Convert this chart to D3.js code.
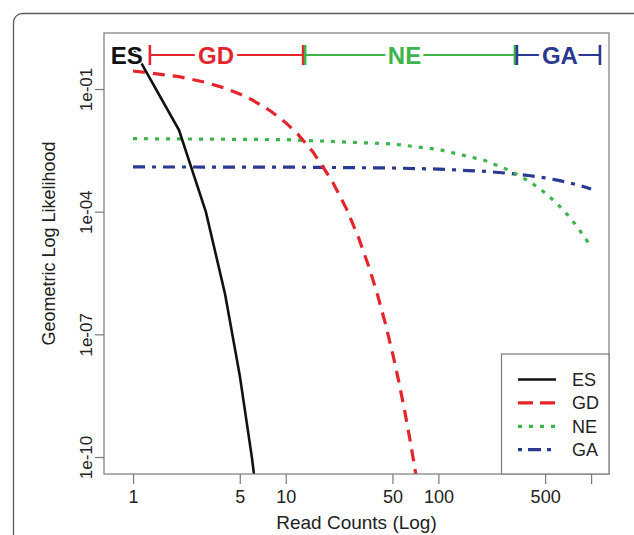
<!DOCTYPE html>
<html>
<head>
<meta charset="utf-8">
<script src="https://cdn.jsdelivr.net/npm/d3@7"></script>
<style>
  html, body { margin: 0; padding: 0; background: #fff; }
  svg { display: block; font-family: "Liberation Sans", Arial, Helvetica, sans-serif; }
</style>
</head>
<body>
<svg id="chart" width="634" height="535"></svg>
<script>
// ---- data ----
const esX = [1, 2, 3, 4, 5, 6, 7];
const esY = [0.99, 0.0099, 9.9e-5, 9.9e-7, 9.9e-9, 9.9e-11, 9.9e-13];

const gdX = [1, 2, 3, 4, 5, 6, 8, 10, 12, 15, 20, 25, 30, 35, 40, 45, 50, 55, 60, 65, 70, 75];
const gdY = [0.276, 0.200, 0.145, 0.105, 0.0756, 0.0547, 0.0286, 0.0150, 7.84e-3, 2.97e-3,
             5.89e-4, 1.17e-4, 2.31e-5, 4.58e-6, 9.08e-7, 1.80e-7, 3.56e-8, 7.06e-9,
             1.40e-9, 2.77e-10, 5.50e-11, 1.09e-11];

const neX = [1, 10, 50, 100, 200, 300, 400, 500, 600, 700, 800, 900, 1000];
const neY = [6.11e-3, 5.78e-3, 4.53e-3, 3.33e-3, 1.81e-3, 9.79e-4, 5.31e-4, 2.88e-4,
             1.56e-4, 8.45e-5, 4.58e-5, 2.48e-5, 1.35e-5];

const gaX = [1, 10, 50, 100, 200, 300, 400, 500, 600, 700, 800, 900, 1000];
const gaY = [1.24e-3, 1.23e-3, 1.17e-3, 1.10e-3, 9.70e-4, 8.57e-4, 7.57e-4, 6.68e-4,
             5.90e-4, 5.21e-4, 4.60e-4, 4.06e-4, 3.59e-4];

const seriesNames = ["ES", "GD", "NE", "GA"];
const xTicks = [1, 5, 10, 50, 100, 500, 1000];
const xTickLabels = ["1", "5", "10", "50", "100", "500", ""];
const yTicks = [1e-1, 1e-4, 1e-7, 1e-10];
const yTickLabels = ["1e-01", "1e-04", "1e-07", "1e-10"];

// region annotation along the top (boundaries in read counts)
const regionBounds = [1.27, 13.2, 322, 1160];
const regionNames = ["GD", "NE", "GA"];
const regionLabelAt = [3.5, 60, 625];
const esLabelAt = 0.91;

// ---- styling ----
const colors = { ES: "#111111", GD: "#e4262c", NE: "#3db54a", GA: "#2b3990" };
const dashes = { ES: null, GD: "12,8", NE: "4,7", GA: "12,7,4,7" };
const widths = { ES: 2.6, GD: 3.2, NE: 3.2, GA: 3.2 };

const svg = d3.select("#chart");
const L = 104, R = 609, T = 33, B = 474;

const x = d3.scaleLog().domain([0.6455, 1310]).range([L, R]);
const y = d3.scaleLog().domain([3.84e-11, 2.342]).range([B, T]);

// outer rounded frame
svg.append("rect").attr("x", 13.5).attr("y", 13.5).attr("width", 700).attr("height", 600)
  .attr("rx", 9).attr("fill", "none").attr("stroke", "#5a5a5a").attr("stroke-width", 1.3);

svg.append("defs").append("clipPath").attr("id", "plotclip")
  .append("rect").attr("x", L).attr("y", T).attr("width", R - L).attr("height", B - T);

const series = [
  { name: "ES", xs: esX, ys: esY },
  { name: "GD", xs: gdX, ys: gdY },
  { name: "NE", xs: neX, ys: neY },
  { name: "GA", xs: gaX, ys: gaY }
];

const line = d3.line().x(d => x(d[0])).y(d => y(d[1]));
const gCurves = svg.append("g").attr("clip-path", "url(#plotclip)");
series.slice().reverse().forEach(s => {
  gCurves.append("path")
    .datum(s.xs.map((v, i) => [v, s.ys[i]]))
    .attr("d", line)
    .attr("fill", "none")
    .attr("stroke", colors[s.name])
    .attr("stroke-width", widths[s.name])
    .attr("stroke-dasharray", dashes[s.name]);
});

// plot box
svg.append("rect").attr("x", L).attr("y", T).attr("width", R - L).attr("height", B - T)
  .attr("fill", "none").attr("stroke", "#7a7a7a").attr("stroke-width", 1.2);

// x axis
const xAxis = d3.axisBottom(x).tickValues(xTicks)
  .tickFormat((d, i) => xTickLabels[i]).tickSize(10).tickPadding(6);
const gx = svg.append("g").attr("transform", `translate(0,${B})`).call(xAxis);
gx.select(".domain").remove();
gx.selectAll(".tick line").attr("stroke", "#7a7a7a").attr("stroke-width", 1.2);
gx.selectAll(".tick text").attr("font-size", 18).attr("fill", "#222")
  .attr("font-family", "Liberation Sans, Arial, sans-serif");

// y axis
const yAxis = d3.axisLeft(y).tickValues(yTicks)
  .tickFormat((d, i) => yTickLabels[i]).tickSize(9).tickPadding(0);
const gy = svg.append("g").attr("transform", `translate(${L},0)`).call(yAxis);
gy.select(".domain").remove();
gy.selectAll(".tick line").attr("stroke", "#7a7a7a").attr("stroke-width", 1.2);
gy.selectAll(".tick text")
  .attr("font-size", 17).attr("fill", "#222")
  .attr("font-family", "Liberation Sans, Arial, sans-serif")
  .attr("text-anchor", "middle").attr("dy", null).attr("x", null)
  .attr("transform", "translate(-12,0) rotate(-90)");

// axis titles
svg.append("text").attr("x", (L + R) / 2).attr("y", 529)
  .attr("text-anchor", "middle").attr("font-size", 19).attr("fill", "#222")
  .text("Read Counts (Log)");
svg.append("text")
  .attr("transform", `translate(55,${(T + B) / 2 - 10}) rotate(-90)`)
  .attr("text-anchor", "middle").attr("font-size", 18).attr("fill", "#222")
  .text("Geometric Log Likelihood");

// top region annotation
const segY = 55;
const gSeg = svg.append("g");
regionNames.forEach((nm, i) => {
  const x0 = x(regionBounds[i]) + 1, x1 = x(regionBounds[i + 1]) - 1;
  const c = colors[nm];
  gSeg.append("line").attr("x1", x0).attr("x2", x1).attr("y1", segY).attr("y2", segY)
    .attr("stroke", c).attr("stroke-width", 1.8);
  [x0, x1].forEach(xx => gSeg.append("line").attr("x1", xx).attr("x2", xx)
    .attr("y1", segY - 10).attr("y2", segY + 10).attr("stroke", c).attr("stroke-width", 2.6));
});
regionNames.forEach((nm, i) => {
  gSeg.append("text").attr("x", x(regionLabelAt[i])).attr("y", segY + 8.5)
    .attr("text-anchor", "middle").attr("font-size", 24).attr("font-weight", "bold")
    .attr("fill", colors[nm]).attr("stroke", "#fff").attr("stroke-width", 8)
    .attr("paint-order", "stroke").attr("stroke-linejoin", "round")
    .text(nm);
});
gSeg.append("text").attr("x", x(esLabelAt)).attr("y", segY + 8.5)
  .attr("text-anchor", "middle").attr("font-size", 24).attr("font-weight", "bold")
  .attr("fill", colors.ES).attr("stroke", "#fff").attr("stroke-width", 3)
  .attr("paint-order", "stroke").attr("stroke-linejoin", "round")
  .text("ES");

// legend
const lg = svg.append("g");
lg.append("rect").attr("x", 501.5).attr("y", 354).attr("width", R - 501.5).attr("height", B - 354)
  .attr("fill", "#fff").attr("stroke", "#7a7a7a").attr("stroke-width", 1.2);
seriesNames.forEach((nm, i) => {
  const yy = 379.5 + i * 23.4;
  lg.append("line").attr("x1", 518).attr("x2", 556).attr("y1", yy).attr("y2", yy)
    .attr("stroke", colors[nm]).attr("stroke-width", widths[nm])
    .attr("stroke-dasharray", nm === "GD" ? "15,7" : nm === "NE" ? "4,7" : nm === "GA" ? "4,6,13,6" : null);
  lg.append("text").attr("x", 572).attr("y", yy + 6.5).attr("font-size", 18)
    .attr("fill", "#222").text(nm);
});
</script>
</body>
</html>
